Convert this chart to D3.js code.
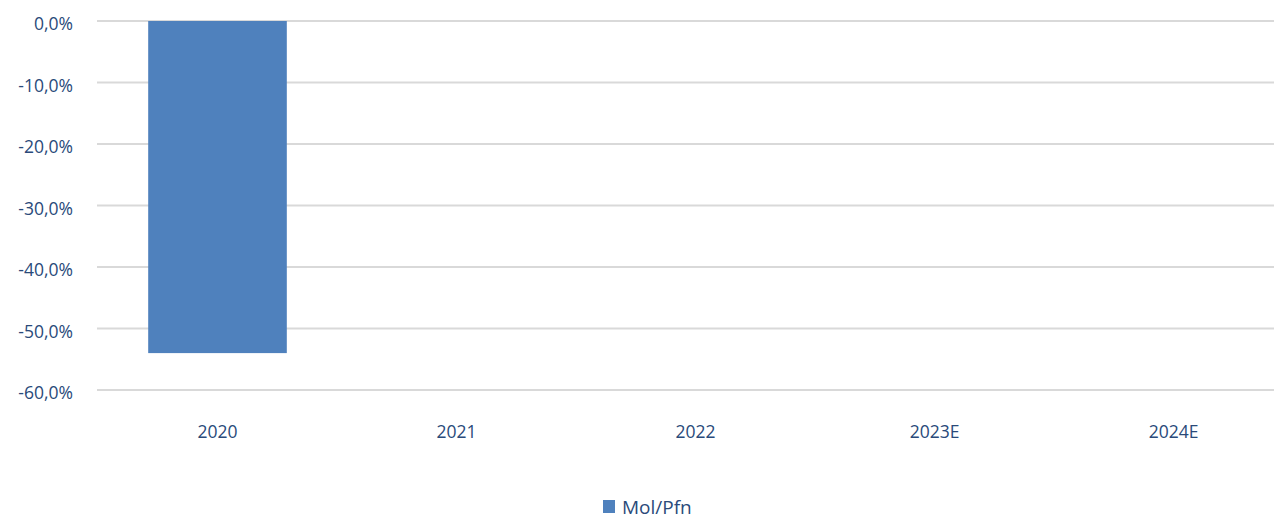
<!DOCTYPE html>
<html lang="en">
<head>
<meta charset="utf-8">
<title>Mol/Pfn</title>
<script src="https://d3js.org/d3.v7.min.js"></script>
<style>
  body { margin: 0; background: #fff; }
  text { font-family: "Open Sans", "Liberation Sans", sans-serif; fill: #2a4a7a; }
  .grid line { stroke: #d9d9d9; stroke-width: 2px; }
  .domain { display: none; }
</style>
</head>
<body>
<div id="chart"></div>
<script>
// chart data
var years = ["2020", "2021", "2022", "2023E", "2024E"];
var values = [-54.0, null, null, null, null];
var yTicks = [0, -10, -20, -30, -40, -50, -60];
var seriesName = "Mol/Pfn";

var W = 1274, H = 519;

var svg = d3.select("#chart").append("svg")
    .attr("width", W)
    .attr("height", H);

var x = d3.scaleBand().domain(years).range([98, 1293]).paddingInner(0.42).paddingOuter(0.21);
var y = d3.scaleLinear().domain([-60, 0]).range([390, 21]);

var fmt = function(v) { return d3.format(".1f")(v).replace(".", ",").replace("−", "-") + "%"; };

// gridlines
svg.append("g").attr("class", "grid")
    .selectAll("line").data(yTicks).enter().append("line")
    .attr("x1", 97).attr("x2", W)
    .attr("y1", function(d) { return y(d); })
    .attr("y2", function(d) { return y(d); });

// y axis labels
var yAxis = svg.append("g")
    .attr("transform", "translate(81,3)")
    .call(d3.axisLeft(y).tickValues(yTicks).tickSize(0).tickPadding(8).tickFormat(fmt));
yAxis.selectAll("text").style("font-size", "17.5px");

// bars
svg.append("g").selectAll("rect")
    .data(years.map(function(d, i) { return {year: d, v: values[i]}; }).filter(function(d) { return d.v != null; }))
    .enter().append("rect")
    .attr("x", function(d) { return x(d.year); })
    .attr("width", x.bandwidth())
    .attr("y", function(d) { return y(0); })
    .attr("height", function(d) { return y(d.v) - y(0); })
    .attr("fill", "#4f81bd");

// x axis labels
var xAxis = svg.append("g")
    .attr("transform", "translate(0,426)")
    .call(d3.axisBottom(x).tickSize(0).tickPadding(0));
xAxis.selectAll("text").style("font-size", "17.5px").attr("dy", "0.71em");

// legend
var lg = svg.append("g").attr("transform", "translate(603,500)");
lg.append("rect").attr("width", 12).attr("height", 13).attr("fill", "#4f81bd");
lg.append("text").attr("x", 19).attr("y", 14).style("font-size", "19px").text(seriesName);
</script>
</body>
</html>
